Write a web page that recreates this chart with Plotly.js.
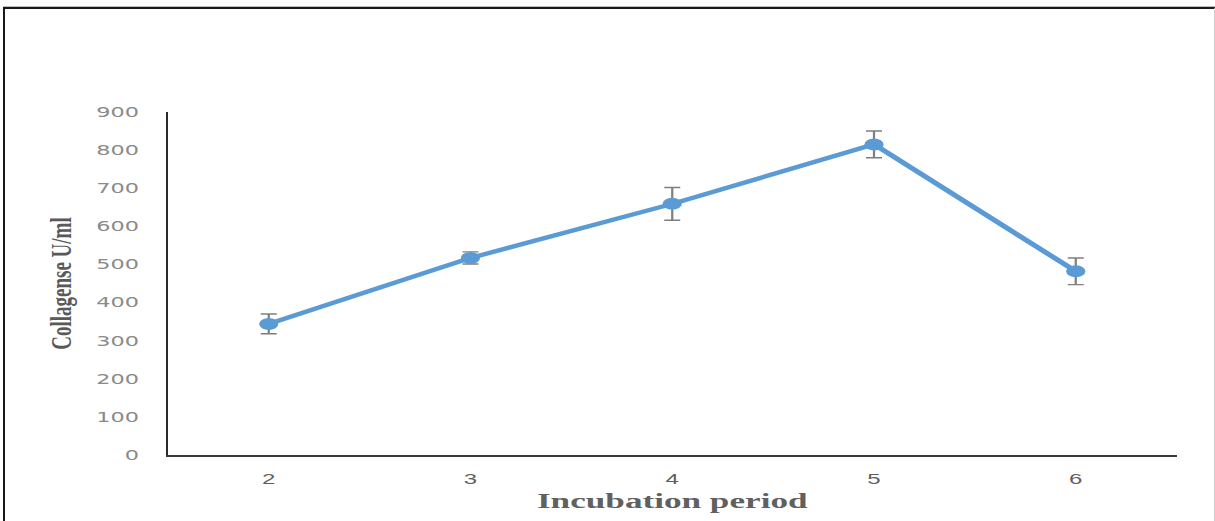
<!DOCTYPE html>
<html>
<head>
<meta charset="utf-8">
<script src="https://cdn.plot.ly/plotly-3.0.1.min.js"></script>
<style>
  html, body { margin: 0; padding: 0; background: #fff; overflow: hidden; }
  #wrap { position: relative; width: 1215px; height: 521px; overflow: hidden; }
  /* chart is laid out narrow, then widened to the page width */
  #chart { position: absolute; left: 0; top: 0; width: 760px; height: 521px;
           transform: scaleX(1.598684); transform-origin: 0 0; }
  #frame { position: absolute; left: 3px; top: 7px; width: 1209px; height: 540px;
           border-left: 2px solid #1a1a1a; border-top: 2px solid #1a1a1a;
           border-right: 1px solid #d0d0d0; box-shadow: 0 -1px 0 #bdbdbd;
           pointer-events: none; }
</style>
</head>
<body>
<div id="wrap">
  <div id="chart"></div>
  <div id="frame"></div>
</div>
<script>
// Collagenase activity over the incubation period (mean ± error)
const periods = ['2', '3', '4', '5', '6'];
const activity = [344, 517, 659, 815, 482];
const errors = [26, 16, 43, 35, 35];
const yTicks = [0, 100, 200, 300, 400, 500, 600, 700, 800, 900];

const trace = {
  type: 'scatter',
  mode: 'lines+markers',
  x: periods,
  y: activity,
  line: { color: '#5b9bd5', width: 4.2 },
  marker: { color: '#5b9bd5', size: 12 },
  error_y: {
    type: 'data',
    array: errors,
    visible: true,
    color: '#7f7f7f',
    thickness: 1.4,
    width: 5
  },
  hoverinfo: 'x+y'
};

const layout = {
  width: 760,
  height: 521,
  margin: { l: 105, r: 24, t: 112, b: 66 },
  paper_bgcolor: '#ffffff',
  plot_bgcolor: '#ffffff',
  showlegend: false,
  xaxis: {
    type: 'category',
    range: [-0.5, 4.5],
    showgrid: false,
    zeroline: false,
    showline: true,
    linecolor: '#3a3a3a',
    linewidth: 1.5,
    ticks: '',
    ticklabelstandoff: 10,
    tickfont: { family: 'Liberation Sans Narrow, Liberation Sans, sans-serif', size: 15, color: '#5f5f5f' },
    title: {
      text: 'Incubation period',
      standoff: 6,
      font: { family: 'Liberation Serif, serif', size: 22, color: '#606060', weight: 'bold' }
    }
  },
  yaxis: {
    range: [0, 900],
    tickvals: yTicks,
    ticktext: yTicks.map(String),
    showgrid: false,
    zeroline: false,
    showline: true,
    linecolor: '#2a2a2a',
    linewidth: 1.3,
    ticks: '',
    ticklabelstandoff: 14,
    tickfont: { family: 'DejaVu Sans, sans-serif', size: 14, color: '#8a8a8a' },
    title: {
      text: 'Collagense U/ml',
      standoff: 10,
      font: { family: 'Liberation Serif, serif', size: 19, color: '#595959', weight: 'bold' }
    }
  }
};

Plotly.newPlot('chart', [trace], layout, { displayModeBar: false, staticPlot: true });
</script>
</body>
</html>
